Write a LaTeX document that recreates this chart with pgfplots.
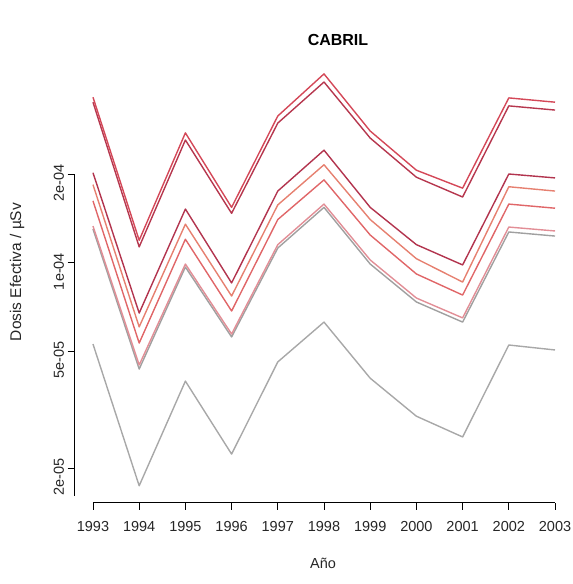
\documentclass[border=0pt]{standalone}
\usepackage{pgfplots}
\pgfplotsset{compat=1.18}
\usepackage{fontspec}
\setmainfont{Liberation Sans}
\definecolor{c1}{RGB}{212,72,88}
\definecolor{c2}{RGB}{182,55,78}
\definecolor{c3}{RGB}{178,52,78}
\definecolor{c4}{RGB}{230,128,112}
\definecolor{c5}{RGB}{224,102,104}
\definecolor{c6}{RGB}{226,142,150}
\definecolor{c7}{RGB}{160,160,160}
\definecolor{c8}{RGB}{168,168,168}
\begin{document}
\begin{tikzpicture}
\useasboundingbox (0,0) rectangle (573pt,584pt);
\begin{axis}[
  at={(74.5pt,81.5pt)}, anchor=south west,
  scale only axis, width=499pt, height=445pt,
  xmin=1992.6, xmax=2003.4,
  ymode=log, ymin=1.526e-5, ymax=4.98e-4,
  axis x line*=bottom, axis y line*=left,
  axis line style={draw=none},
  tick align=outside, major tick length=7pt,
  tick style={black, line width=0.8pt},
  minor tick num=0, yminorticks=false,
  xtick={1993,1994,1995,1996,1997,1998,1999,2000,2001,2002,2003},
  xticklabels={1993,1994,1995,1996,1997,1998,1999,2000,2001,2002,2003},
  ytick={2e-5,5e-5,1e-4,2e-4},
  yticklabels={2e-05,5e-05,1e-04,2e-04},
  ticklabel style={font=\fontsize{14.5}{17}\selectfont, text=black!85},
  xticklabel style={yshift=-8pt},
  yticklabel style={rotate=90, anchor=south, xshift=-9pt},
  clip=false,
  every axis plot/.append style={line width=1.4pt, line join=round},
]
\addplot[c8] coordinates {(1993,5.28e-5) (1994,1.74e-5) (1995,3.95e-5) (1996,2.23e-5) (1997,4.59e-5) (1998,6.27e-5) (1999,4.04e-5) (2000,3.00e-5) (2001,2.55e-5) (2002,5.24e-5) (2003,5.04e-5)};
\addplot[c7] coordinates {(1993,1.30e-4) (1994,4.34e-5) (1995,9.65e-5) (1996,5.58e-5) (1997,1.12e-4) (1998,1.54e-4) (1999,9.88e-5) (2000,7.34e-5) (2001,6.27e-5) (2002,1.27e-4) (2003,1.23e-4)};
\addplot[c6] coordinates {(1993,1.33e-4) (1994,4.48e-5) (1995,9.88e-5) (1996,5.71e-5) (1997,1.15e-4) (1998,1.58e-4) (1999,1.02e-4) (2000,7.57e-5) (2001,6.48e-5) (2002,1.32e-4) (2003,1.28e-4)};
\addplot[c5] coordinates {(1993,1.62e-4) (1994,5.32e-5) (1995,1.20e-4) (1996,6.84e-5) (1997,1.40e-4) (1998,1.91e-4) (1999,1.24e-4) (2000,9.14e-5) (2001,7.75e-5) (2002,1.58e-4) (2003,1.53e-4)};
\addplot[c4] coordinates {(1993,1.84e-4) (1994,6.04e-5) (1995,1.35e-4) (1996,7.69e-5) (1997,1.57e-4) (1998,2.15e-4) (1999,1.40e-4) (2000,1.03e-4) (2001,8.58e-5) (2002,1.81e-4) (2003,1.75e-4)};
\addplot[c3] coordinates {(1993,2.02e-4) (1994,6.73e-5) (1995,1.52e-4) (1996,8.52e-5) (1997,1.75e-4) (1998,2.41e-4) (1999,1.54e-4) (2000,1.15e-4) (2001,9.81e-5) (2002,2.00e-4) (2003,1.94e-4)};
\addplot[c2] coordinates {(1993,3.51e-4) (1994,1.13e-4) (1995,2.61e-4) (1996,1.47e-4) (1997,2.98e-4) (1998,4.11e-4) (1999,2.65e-4) (2000,1.95e-4) (2001,1.67e-4) (2002,3.41e-4) (2003,3.30e-4)};
\addplot[c1] coordinates {(1993,3.65e-4) (1994,1.19e-4) (1995,2.76e-4) (1996,1.54e-4) (1997,3.15e-4) (1998,4.38e-4) (1999,2.80e-4) (2000,2.06e-4) (2001,1.79e-4) (2002,3.63e-4) (2003,3.51e-4)};
% axis lines spanning the tick range (R style)
\draw[black, line width=0.8pt] (axis cs:1993,1.526e-5) -- (axis cs:2003,1.526e-5);
\draw[black, line width=0.8pt] (axis cs:1992.6,2e-4) -- (axis cs:1992.6,1.6e-5);
\end{axis}
\node[font=\bfseries\fontsize{16}{19}\selectfont] at (338pt,544pt) {CABRIL};
\node[font=\fontsize{14.5}{17}\selectfont, text=black!85] at (323pt,21pt) {Año};
\node[font=\fontsize{15.5}{18}\selectfont, text=black!85, rotate=90] at (17pt,312pt) {Dosis Efectiva / µSv};
\end{tikzpicture}
\end{document}
